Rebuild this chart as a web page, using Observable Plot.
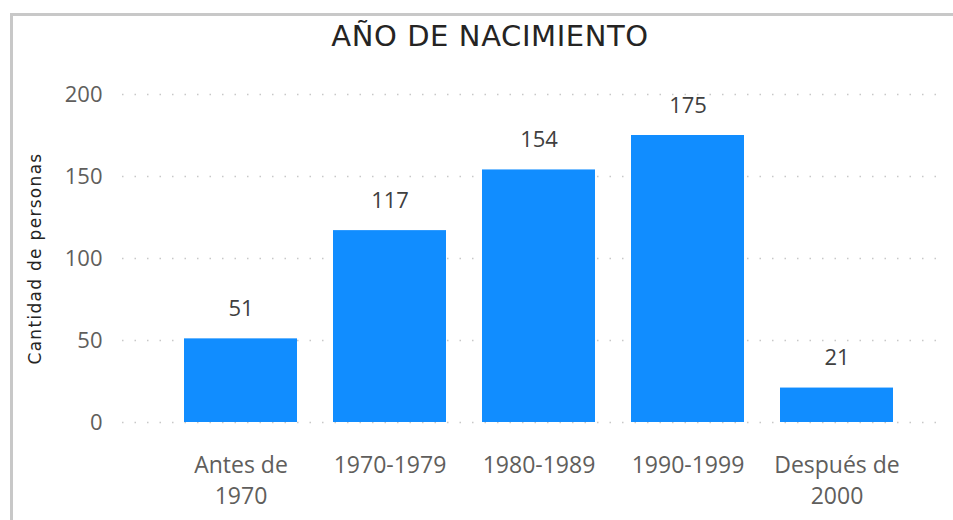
<!DOCTYPE html>
<html>
<head>
<meta charset="utf-8">
<script src="https://cdn.jsdelivr.net/npm/d3@7"></script>
<script src="https://cdn.jsdelivr.net/npm/@observablehq/plot@0.6"></script>
<style>
  html, body { margin: 0; padding: 0; background: #fff; width: 953px; height: 520px; overflow: hidden; }
  #frame { position: absolute; left: 10px; top: 13px; width: 960px; height: 520px;
           border-left: 3px solid #c8c8c8; border-top: 3px solid #c8c8c8; box-sizing: border-box; }
  #title { position: absolute; left: 0; top: 19px; width: 980px; text-align: center;
           font-family: "DejaVu Sans", sans-serif; font-size: 29px; color: #252423; letter-spacing: 0.6px; }
  #chart { position: absolute; left: 0; top: 60px; }
</style>
</head>
<body>
<div id="frame"></div>
<div id="title">AÑO DE NACIMIENTO</div>
<div id="chart"></div>
<script>
const categories = ["Antes de 1970", "1970-1979", "1980-1989", "1990-1999", "Después de 2000"];
const values = [51, 117, 154, 175, 21];
const tickLabels = ["Antes de\n1970", "1970-1979", "1980-1989", "1990-1999", "Después de\n2000"];
const yTicks = [0, 50, 100, 150, 200];
const yLabel = "Cantidad de personas";

const data = categories.map((c, i) => ({category: c, value: values[i]}));
const labelOf = new Map(categories.map((c, i) => [c, tickLabels[i]]));

const chart = Plot.plot({
  width: 953,
  height: 460,
  marginTop: 34,
  marginBottom: 98,
  marginLeft: 122,
  marginRight: 8,
  style: {fontFamily: "'Segoe UI', 'Open Sans', sans-serif", fontSize: "20px", color: "#605e5c", background: "transparent"},
  x: {domain: categories, range: [183, 894], paddingInner: 0.244, paddingOuter: 0, label: null},
  y: {domain: [0, 200], label: null},
  marks: [
    Plot.ruleY(yTicks, {stroke: "#c8c8c8", strokeWidth: 1.5, strokeDasharray: "1.5,11"}),
    Plot.barY(data, {x: "category", y: "value", fill: "#118DFF"}),
    Plot.text(data, {x: "category", y: "value", text: d => String(d.value), dy: -30, fill: "#404040", fontSize: 22}),
    Plot.axisY(yTicks, {tickSize: 0, tickPadding: 20, fontSize: 22, fill: "#605e5c", label: null}),
    Plot.axisX({tickSize: 0, tickPadding: 28, fontSize: 23, fill: "#605e5c", lineHeight: 1.35, tickFormat: d => labelOf.get(d), label: null}),
    Plot.text([yLabel], {frameAnchor: "left", dx: -87, rotate: -90, fontSize: 17, fontFamily: "DejaVu Sans", fill: "#252423", textAnchor: "middle"})
  ]
});
d3.select(chart).selectAll("text").filter(function() { return this.textContent === yLabel; })
  .style("letter-spacing", "1.3px");
document.getElementById("chart").appendChild(chart);
</script>
</body>
</html>
